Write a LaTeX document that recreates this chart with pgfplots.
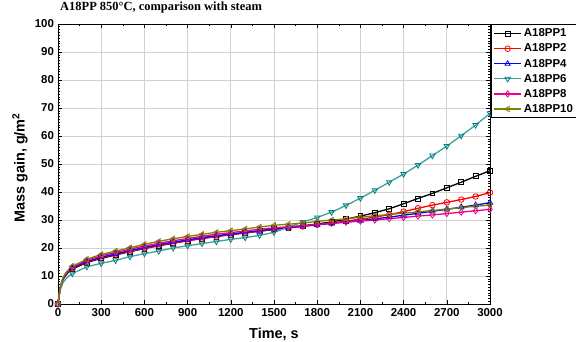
\documentclass[border=0pt]{standalone}
\usepackage{pgfplots}
\pgfplotsset{compat=1.18}
\usepackage{pgfplotstable}
\usepackage{fontspec}
\setmainfont{Liberation Sans}
\newfontfamily\serifb{Liberation Serif}

\definecolor{tealc}{RGB}{0,128,128}
\definecolor{olivec}{RGB}{128,128,0}

\pgfplotstableread{
t a b c d e f
100 12.5 12.8 12.9 10.9 13.2 13.5
200 14.8 15.0 15.2 13.3 15.6 16.0
300 16.3 16.5 16.7 14.5 17.2 17.7
400 17.5 17.7 17.9 15.6 18.4 18.9
500 18.7 18.8 19.1 16.9 19.6 20.1
600 19.8 19.9 20.2 18.0 20.7 21.3
700 20.8 20.9 21.2 18.9 21.7 22.4
800 21.7 21.8 22.1 20.0 22.6 23.3
900 22.6 22.6 22.9 20.8 23.4 24.1
1000 23.4 23.4 23.7 21.6 24.2 24.9
1100 24.1 24.1 24.4 22.3 24.9 25.6
1200 24.8 24.8 25.0 23.1 25.5 26.2
1300 25.4 25.4 25.6 23.7 26.1 26.8
1400 26.0 26.0 26.2 24.5 26.7 27.5
1500 26.7 26.6 26.8 25.6 27.2 28.1
1600 27.3 27.2 27.3 27.4 27.6 28.5
1700 27.9 27.7 27.8 29.3 28.0 28.9
1800 28.6 28.3 28.3 30.9 28.4 29.5
1900 29.3 28.9 28.8 32.8 28.8 30.0
2000 30.3 29.6 29.3 35.2 29.2 30.4
2100 31.4 30.3 29.8 37.8 29.6 31.0
2200 32.6 31.0 30.4 40.6 30.0 31.5
2300 34.0 31.9 31.0 43.5 30.5 32.0
2400 35.8 33.0 31.7 46.4 30.9 32.4
2500 37.7 34.2 32.4 49.6 31.4 32.9
2600 39.5 35.3 33.1 53.0 31.8 33.4
2700 41.5 36.3 33.8 56.4 32.3 33.9
2800 43.5 37.3 34.6 60.1 32.8 34.4
2900 45.6 38.4 35.3 63.9 33.3 34.9
3000 47.6 39.8 36.2 68.1 33.8 35.3
}\mainT

\pgfplotstableread{
t a b c d e f
0 0 0 0 0 0 0
10 3.8 3.8 3.9 3.3 4.0 4.1
20 6.5 6.7 6.7 5.7 6.9 7.0
35 8.8 9.0 9.0 7.6 9.2 9.5
50 10.0 10.2 10.3 8.7 10.6 10.8
75 11.5 11.8 11.9 10.0 12.1 12.4
100 12.5 12.8 12.9 10.9 13.2 13.5
}\earlyT

\begin{document}
\begin{tikzpicture}
\path[use as bounding box] (-58bp,-38bp) rectangle (518bp,304bp);
\begin{axis}[
  scale only axis,
  width=432bp, height=280bp,
  at={(0,0)}, anchor=south west,
  xmin=0, xmax=3000, ymin=0, ymax=100,
  xtick={0,300,...,3000},
  ytick={0,10,...,100},
  minor x tick num=1,
  minor y tick num=9,
  tick align=inside,
  major tick length=4bp,
  minor tick length=2bp,
  tick style={black, line width=0.6pt},
  axis line style={black, line width=0.8pt},
  grid=major,
  major grid style={gray!35, line width=0.9pt},
  /pgf/number format/assume math mode=true,
  /pgf/number format/1000 sep={},
  tick label style={font=\bfseries\fontsize{11.5}{13}\selectfont},
  xticklabel style={yshift=-0.5bp},
  yticklabel style={xshift=-0.5bp},
  title={A18PP 850\textdegree C, comparison with steam},
  title style={font=\serifb\bfseries\fontsize{12.5}{14}\selectfont, at={(0,1)}, anchor=south west, inner sep=0pt, xshift=2bp, yshift=5bp},
  xlabel={Time, s},
  xlabel style={font=\bfseries\fontsize{14.5}{16}\selectfont, at={(axis description cs:0.5,-0.11)}, anchor=center},
  ylabel={Mass gain, g/m\textsuperscript{2}},
  ylabel style={font=\bfseries\fontsize{14.5}{16}\selectfont, at={(axis description cs:-0.088,0.486)}, anchor=center},
  legend style={at={(1,1)}, anchor=north west, xshift=1bp, yshift=-0.5bp, draw=black, line width=0.8pt, font=\bfseries\fontsize{11.5}{13}\selectfont, inner sep=2pt, row sep=1.6pt, fill=white},
  legend cell align=left,
  legend image code/.code={\draw[mark repeat=2,mark phase=2,#1] plot coordinates {(0cm,0cm) (0.48cm,0cm) (0.96cm,0cm)};},
  s1/.style={black, line width=1.3pt, mark=square, mark size=2.5pt, mark options={fill=white, solid, line width=0.8pt}},
  s2/.style={red, line width=1.3pt, mark=o, mark size=2.8pt, mark options={fill=white, solid, line width=0.8pt}},
  s3/.style={blue, line width=1.3pt, mark=triangle, mark size=3.1pt, mark options={fill=white, solid, line width=0.8pt}},
  s4/.style={tealc!75!white, line width=1.3pt, mark=triangle, mark size=3.1pt, mark options={draw=tealc, fill=white, solid, rotate=180, line width=0.8pt}},
  s5/.style={magenta, line width=1.3pt, mark=diamond, mark size=3.1pt, mark options={fill=white, solid, line width=0.8pt}},
  s6/.style={olivec, line width=1.3pt, mark=triangle, mark size=3.1pt, mark options={fill=white, solid, rotate=90, line width=0.8pt}},
]
\addplot[s1, forget plot, mark indices={1}] table[x=t,y=a]{\earlyT};
\addplot[s1] table[x=t,y=a]{\mainT};
\addlegendentry{A18PP1}
\addplot[s2, forget plot, mark indices={1}] table[x=t,y=b]{\earlyT};
\addplot[s2] table[x=t,y=b]{\mainT};
\addlegendentry{A18PP2}
\addplot[s3, forget plot, mark indices={1}] table[x=t,y=c]{\earlyT};
\addplot[s3] table[x=t,y=c]{\mainT};
\addlegendentry{A18PP4}
\addplot[s4, forget plot, mark indices={1}] table[x=t,y=d]{\earlyT};
\addplot[s4] table[x=t,y=d]{\mainT};
\addlegendentry{A18PP6}
\addplot[s5, forget plot, mark indices={1}] table[x=t,y=e]{\earlyT};
\addplot[s5] table[x=t,y=e]{\mainT};
\addlegendentry{A18PP8}
\addplot[s6, forget plot, mark indices={1}] table[x=t,y=f]{\earlyT};
\addplot[s6] table[x=t,y=f]{\mainT};
\addlegendentry{A18PP10}
\end{axis}
\end{tikzpicture}
\end{document}
